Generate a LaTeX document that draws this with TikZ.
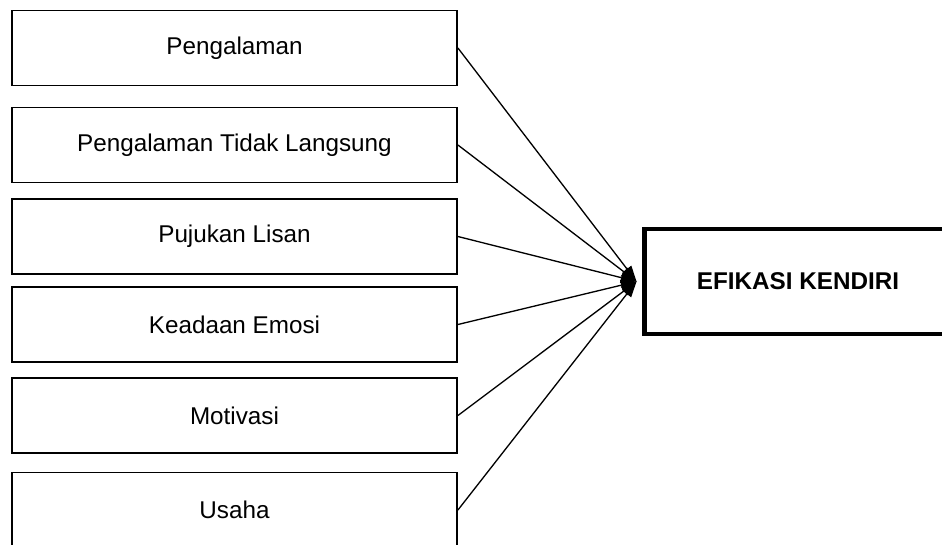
\documentclass[tikz,border=0pt]{standalone}
\usepackage{fontspec}
\setmainfont{Liberation Sans}
\usetikzlibrary{arrows.meta}
\usetikzlibrary{positioning}

\begin{document}
\begin{tikzpicture}[
  x=0.02cm, y=-0.02cm,
  font=\fontsize{13.8}{16}\selectfont,
  factor/.style={draw, rectangle, line width=1.1pt, minimum width=8.9cm, minimum height=1.5cm},
  result/.style={draw, rectangle, line width=2.8pt, minimum width=6.4cm, minimum height=2.1cm},
  arr/.style={line width=0.75pt, black, -{Triangle[length=9pt, width=6pt]}},
]

\useasboundingbox (0,0) rectangle (942,544);

\foreach \n/\y/\t in {f1/48/Pengalaman, f2/145/Pengalaman Tidak Langsung,
  f3/236.5/Pujukan Lisan, f4/324.5/Keadaan Emosi, f5/415.5/Motivasi, f6/510/Usaha} {
  \node (\n) [factor] at (234.5,\y) {\t};
}

\node (ek) [result, label={[xshift=-0.12cm, font=\fontsize{13.8}{16}\selectfont\bfseries]center:EFIKASI KENDIRI}] at (804,281.5) {};
\coordinate (hub) at ([xshift=-0.1cm]ek.west);

\foreach \n in {f1,f2,f3,f4,f5,f6} {
  \draw[arr] (\n.east) -- (hub);
}

\end{tikzpicture}
\end{document}
